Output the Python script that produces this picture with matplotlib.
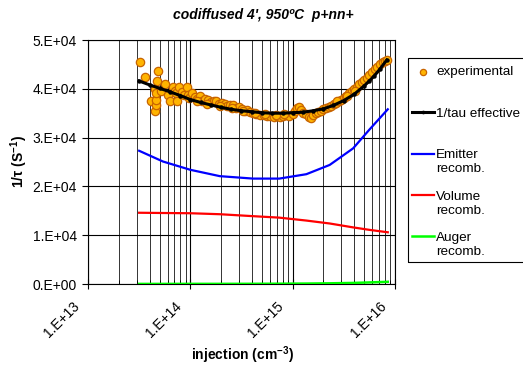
import numpy as np
import matplotlib
matplotlib.use("Agg")
import matplotlib.pyplot as plt
from matplotlib.ticker import LogLocator, FixedLocator, NullFormatter
from matplotlib.patches import Rectangle
from matplotlib.transforms import ScaledTranslation

plt.rcParams['font.family'] = ['Liberation Sans', 'DejaVu Sans']
plt.rcParams['mathtext.fontset'] = 'custom'
plt.rcParams['mathtext.rm'] = 'Liberation Sans'
plt.rcParams['mathtext.bf'] = 'Liberation Sans:bold'
plt.rcParams['mathtext.default'] = 'bf'

# experimental points: injection (cm^-3), 1/tau (s^-1, in units of 1e4)
exp_x = [3.24e13, 3.57e13, 4.17e13, 4.50e13, 4.55e13, 4.60e13, 4.62e13, 4.65e13,
         4.70e13, 4.85e13, 5.2e13, 5.7e13, 6.0e13, 6.3e13, 6.8e13, 7.1e13,
         7.3e13, 7.4e13, 7.8e13, 8.2e13, 8.6e13, 9.2e13, 9.4e13, 9.8e13,
         1.03e14, 1.10e14, 1.17e14, 1.23e14, 1.30e14, 1.38e14, 1.49e14, 1.58e14,
         1.70e14, 1.80e14, 1.92e14, 2.05e14, 2.17e14, 2.30e14, 2.45e14, 2.62e14,
         2.80e14, 3.00e14, 3.17e14, 3.40e14, 3.60e14, 3.80e14, 4.10e14, 4.40e14,
         4.80e14, 5.20e14, 5.60e14, 6.00e14, 6.50e14, 7.00e14, 7.50e14, 8.00e14,
         8.60e14, 9.30e14, 1.00e15, 1.06e15, 1.10e15, 1.15e15, 1.20e15, 1.27e15,
         1.35e15, 1.45e15, 1.50e15, 1.58e15, 1.70e15, 1.78e15, 1.90e15, 2.00e15,
         2.12e15, 2.24e15, 2.37e15, 2.51e15, 2.66e15, 2.82e15, 2.99e15, 3.16e15,
         3.35e15, 3.55e15, 3.76e15, 3.98e15, 4.22e15, 4.47e15, 4.73e15, 5.01e15,
         5.31e15, 5.62e15, 5.96e15, 6.31e15, 6.68e15, 7.08e15, 7.59e15, 7.94e15,
         8.32e15,
         1.15e14, 1.45e14, 1.95e14, 2.55e14, 3.30e14, 4.25e14, 5.40e14, 6.80e14,
         8.30e14, 2.70e15, 3.40e15, 4.10e15]
exp_y = [4.55, 4.25, 3.76, 3.99, 3.55, 3.67, 3.78, 3.92,
         4.17, 4.36, 3.96, 4.09, 3.87, 3.74, 4.03, 3.95,
         3.91, 3.76, 4.03, 3.94, 3.87, 4.03, 3.87, 3.82,
         3.91, 3.84, 3.80, 3.85, 3.76, 3.80, 3.78, 3.72,
         3.75, 3.74, 3.68, 3.70, 3.69, 3.64, 3.67, 3.67,
         3.60, 3.62, 3.58, 3.55, 3.57, 3.53, 3.50, 3.49,
         3.47, 3.46, 3.44, 3.45, 3.43, 3.44, 3.43, 3.45,
         3.46, 3.45, 3.49, 3.55, 3.60, 3.62, 3.56, 3.50,
         3.48, 3.42, 3.40, 3.47, 3.50, 3.52, 3.55, 3.58,
         3.60, 3.62, 3.65, 3.68, 3.71, 3.74, 3.78, 3.82,
         3.86, 3.91, 3.95, 4.00, 4.04, 4.09, 4.13, 4.18,
         4.23, 4.28, 4.34, 4.40, 4.45, 4.50, 4.54, 4.57,
         4.60,
         3.74, 3.69, 3.64, 3.60, 3.54, 3.51, 3.48, 3.47,
         3.48, 3.74, 3.85, 3.96]

# fitted 1/tau effective
fit_x = [3.16e13, 4e13, 5e13, 6.3e13, 8e13, 1e14, 1.26e14, 1.58e14, 2e14, 2.5e14,
         3.16e14, 4e14, 5e14, 6.3e14, 8e14, 1e15, 1.26e15, 1.58e15, 2e15, 2.5e15,
         3.16e15, 4e15, 5e15, 5.6e15, 6.3e15, 7.1e15, 8.3e15]
fit_y = [4.16, 4.08, 4.01, 3.94, 3.86, 3.78, 3.72, 3.67, 3.62, 3.58,
         3.55, 3.53, 3.51, 3.50, 3.50, 3.51, 3.52, 3.55, 3.59, 3.66,
         3.76, 3.89, 4.06, 4.16, 4.27, 4.40, 4.59]

# recombination components
comp_x = [3.16e13, 5.4e13, 1e14, 1.94e14, 4.1e14, 7.4e14, 1.36e15, 2.3e15,
          3.9e15, 5.6e15, 8.5e15]
emitter = [2.73, 2.51, 2.34, 2.21, 2.16, 2.16, 2.25, 2.44, 2.78, 3.16, 3.58]
volume = [1.46, 1.455, 1.45, 1.43, 1.39, 1.36, 1.30, 1.24, 1.16, 1.11, 1.06]
auger = [0.002, 0.002, 0.003, 0.003, 0.004, 0.006, 0.009, 0.014, 0.022, 0.032, 0.045]

x_ticks = [1e13, 1e14, 1e15, 1e16]
x_labels = ['1.E+13', '1.E+14', '1.E+15', '1.E+16']
y_ticks = [0, 1e4, 2e4, 3e4, 4e4, 5e4]
y_labels = ['0.E+00', '1.E+04', '2.E+04', '3.E+04', '4.E+04', '5.E+04']

scale = 1e4
W, H = 523, 365

fig = plt.figure(figsize=(W / 100, H / 100), dpi=100)
ax = fig.add_axes([88 / W, 1 - 284 / H, (395 - 88) / W, (284 - 40) / H])

ax.scatter(exp_x, np.array(exp_y) * scale, s=36, c='#FFB400', edgecolors='#C86400',
           linewidths=0.9, zorder=3, label='experimental')
ax.plot(fit_x, np.array(fit_y) * scale, color='black', lw=2.2, marker='o', ms=2.2,
        zorder=4, label='1/tau effective')
ax.plot(comp_x, np.array(emitter) * scale, color='#0000FF', lw=1.6, zorder=3,
        label='Emitter')
ax.plot(comp_x, np.array(volume) * scale, color='#FF0000', lw=1.6, zorder=3,
        label='Volume')
ax.plot(comp_x, np.array(auger) * scale, color='#00FF00', lw=1.8, zorder=3,
        label='Auger')

ax.set_xscale('log')
ax.set_xlim(1e13, 1e16)
ax.set_ylim(0, 5e4)
ax.set_yticks(y_ticks)
ax.set_yticklabels(y_labels, fontsize=10)
ax.xaxis.set_major_locator(FixedLocator(x_ticks))
ax.xaxis.set_minor_locator(LogLocator(base=10, subs=np.arange(2, 10)))
ax.xaxis.set_major_formatter(NullFormatter())
ax.xaxis.set_minor_formatter(NullFormatter())

# rotated x tick labels, sitting a little left of and below each tick
shift = ScaledTranslation(-6 / 100, -15 / 100, fig.dpi_scale_trans)
for v, lab in zip(x_ticks, x_labels):
    ax.text(v, 0, lab, transform=ax.get_xaxis_transform() + shift, rotation=45,
            ha='right', va='top', fontsize=10, clip_on=False)

ax.tick_params(axis='x', which='major', direction='inout', length=7, width=0.8)
ax.tick_params(axis='x', which='minor', direction='in', length=3, width=0.6)
ax.tick_params(axis='y', which='major', direction='out', length=4, width=0.8, pad=4)
ax.grid(True, which='major', axis='both', color='black', lw=0.8)
ax.grid(True, which='minor', axis='x', color='#333333', lw=0.7)
for sp in ax.spines.values():
    sp.set_color('black')
    sp.set_linewidth(0.8)

fig.text(243 / W, 1 - 355 / H, r'injection (cm$^{-3}$)', ha='center', va='center',
         fontsize=10, fontweight='bold')
ax.set_ylabel(r'1/τ (S$^{-1}$)', fontsize=10, fontweight='bold', labelpad=2)

fig.text(263 / W, 1 - 15 / H, "codiffused 4', 950ºC  p+nn+", ha='center',
         va='center', fontsize=10, fontweight='bold', fontstyle='italic')

# legend outside on the right, entries with a fixed pitch like the original
leg = fig.legend(loc='upper left', bbox_to_anchor=(412 / W, 1 - 66 / H),
                 fontsize=9.7, frameon=False, handlelength=1.6,
                 handletextpad=0.2, borderaxespad=0, borderpad=0,
                 labelspacing=2.15, scatterpoints=1, markerscale=0.75)
fig.add_artist(Rectangle((408 / W, 1 - 262 / H), 130 / W, 204 / H,
                         transform=fig.transFigure, fill=False,
                         edgecolor='black', lw=0.8, clip_on=False))

fig.canvas.draw()
renderer = fig.canvas.get_renderer()
inv = fig.transFigure.inverted()
for t in leg.get_texts()[2:]:
    bb = t.get_window_extent(renderer)
    x0, y0 = inv.transform((bb.x0, bb.y0 - 14))
    fig.text(x0, y0, 'recomb.', fontsize=9.7, ha='left', va='bottom')

fig.savefig('out.png', dpi=100)
